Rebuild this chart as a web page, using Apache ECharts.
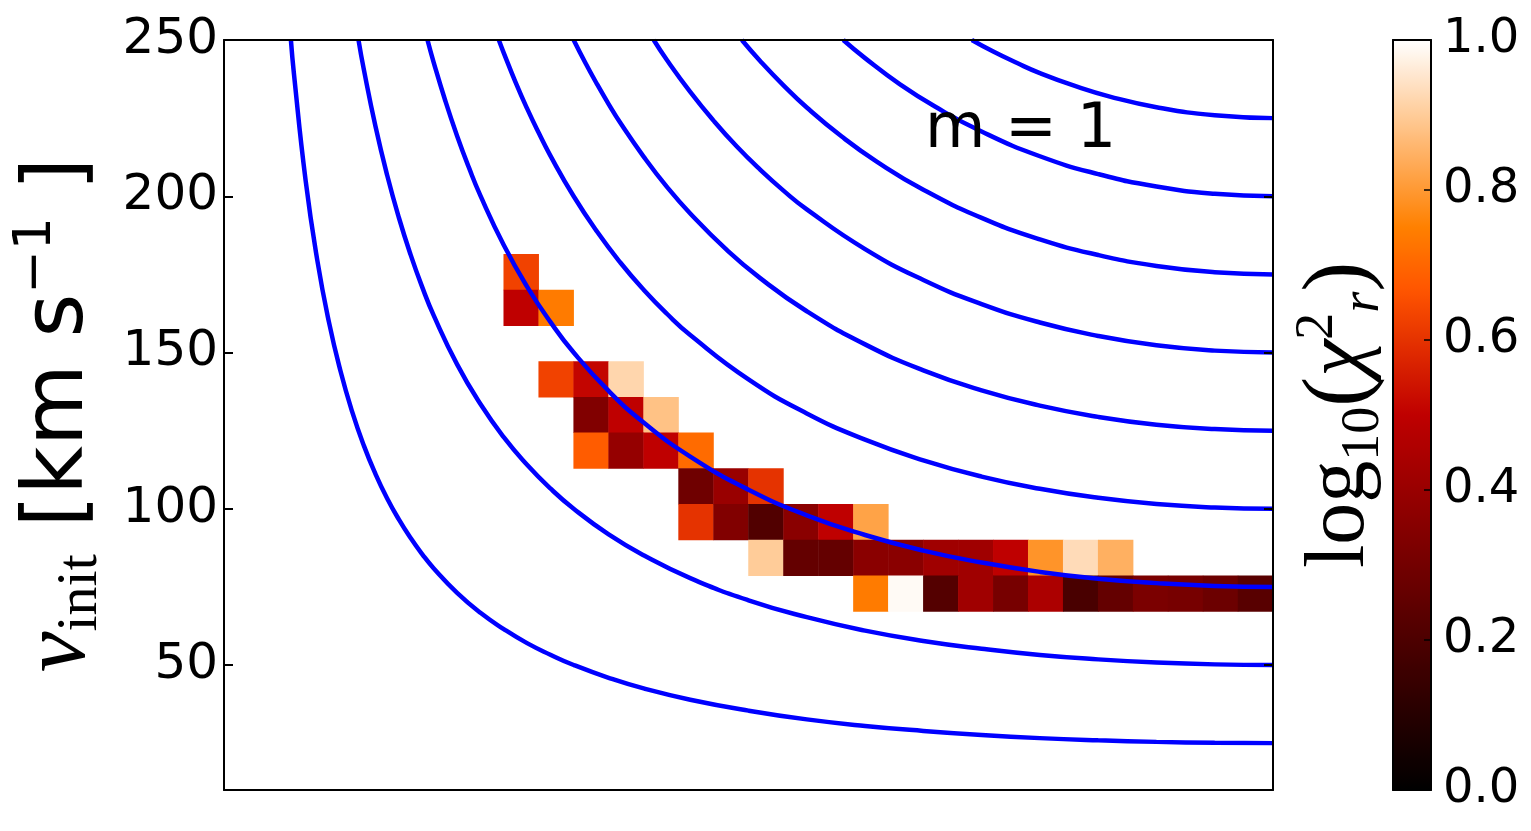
<!DOCTYPE html>
<html>
<head>
<meta charset="utf-8">
<script src="https://cdn.jsdelivr.net/npm/echarts@6/dist/echarts.min.js"></script>
<style>
html,body{margin:0;padding:0;background:#ffffff;}
#chart{width:1531px;height:831px;}
</style>
</head>
<body>
<div id="chart"></div>
<script>
// ---- data ----
const yTicks = [50, 100, 150, 200, 250];          // y tick labels (km/s)
const xBins = ['0','3','6','9','12','15','18','21','24','27','30','33','36','39','42',
               '45','48','51','54','57','60','63','66','69','72','75','78','81','84','87']; // 30 columns (3 deg each)
const yBins = ['10','21','33','44','56','67','79','90','101','113','124','136','147','159',
               '170','181','193','204','216','227','239'];                                   // 21 rows

// heatmap cells: [column, row, log10(chi2_r)]
const cells = [
  [8, 14, 0.63],
  [8, 13, 0.50], [9, 13, 0.74],
  [9, 11, 0.63], [10, 11, 0.51], [11, 11, 0.92],
  [10, 10, 0.335], [11, 10, 0.50], [12, 10, 0.88],
  [10, 9, 0.68], [11, 9, 0.39], [12, 9, 0.50], [13, 9, 0.71],
  [13, 8, 0.29], [14, 8, 0.40], [15, 8, 0.60],
  [13, 7, 0.60], [14, 7, 0.335], [15, 7, 0.21], [16, 7, 0.36], [17, 7, 0.50], [18, 7, 0.82],
  [15, 6, 0.90], [16, 6, 0.26], [17, 6, 0.26], [18, 6, 0.36], [19, 6, 0.36], [20, 6, 0.42],
  [21, 6, 0.42], [22, 6, 0.50], [23, 6, 0.79], [24, 6, 0.93], [25, 6, 0.845],
  [18, 5, 0.74], [19, 5, 0.99], [20, 5, 0.22], [21, 5, 0.42], [22, 5, 0.31], [23, 5, 0.45],
  [24, 5, 0.19], [25, 5, 0.26], [26, 5, 0.32], [27, 5, 0.31], [28, 5, 0.28], [29, 5, 0.23]
];

// blue curves: [x (deg, 0..90 across the plot), v_init]
const curve25 = [[5.74,250],[6,239.2],[7,205.1],[8,179.6],[9,159.8],[10,144.0],[11,131.0],[12,120.2],[13,111.1],[14,103.3],[15,96.6],[16,90.7],[17,85.5],[18,80.9],[20,73.1],[22,66.7],[24,61.5],[26,57.0],[28,53.3],[30,50.0],[33,45.9],[36,42.5],[40,38.9],[45,35.4],[50,32.6],[55,30.5],[60,28.9],[65,27.6],[70,26.6],[75,25.9],[80,25.4],[85,25.1],[90,25.0]];
const curve50 = [[11.54,250],[12,240.5],[13,222.3],[14,206.7],[15,193.2],[16,181.4],[17,171.0],[18,161.8],[20,146.2],[22,133.5],[24,122.9],[26,114.1],[28,106.5],[30,100],[33,91.8],[36,85.1],[40,77.8],[45,70.7],[50,65.3],[55,61.0],[60,57.7],[65,55.2],[70,53.2],[75,51.8],[80,50.8],[85,50.2],[90,50]];
const curve75 = [[17.46,250],[18,242.7],[19,230.4],[20,219.3],[21,209.3],[22,200.2],[24,184.4],[26,171.1],[28,159.8],[30,150],[33,137.7],[36,127.6],[40,116.7],[45,106.1],[50,97.9],[55,91.6],[60,86.6],[65,82.8],[70,79.8],[75,77.6],[80,76.2],[85,75.3],[90,75]];
const curve100 = [[23.58,250],[24,245.9],[25,236.6],[26,228.1],[27,220.3],[28,213.0],[30,200],[32,188.7],[34,178.8],[36,170.1],[38,162.4],[40,155.6],[45,141.4],[50,130.5],[55,122.1],[60,115.5],[65,110.3],[70,106.4],[75,103.5],[80,101.5],[85,100.4],[90,100]];
const curve125 = [[30,250],[31,242.7],[32,235.9],[33,229.5],[34,223.5],[36,212.7],[38,203.0],[40,194.5],[43,183.3],[46,173.8],[50,163.2],[55,152.6],[60,144.3],[65,137.9],[70,133.0],[75,129.4],[80,126.9],[85,125.5],[90,125]];
const curve150 = [[36.87,250],[38,243.6],[40,233.4],[42,224.2],[44,215.9],[46,208.5],[48,201.8],[50,195.8],[55,183.1],[60,173.2],[65,165.5],[70,159.6],[75,155.3],[80,152.3],[85,150.6],[90,150]];
const curve175 = [[44.43,250],[46,243.3],[48,235.5],[50,228.4],[53,219.1],[56,211.1],[60,202.1],[65,193.1],[70,186.2],[75,181.2],[80,177.7],[85,175.7],[90,175]];
const curve200 = [[53.13,250],[55,244.2],[58,235.8],[61,228.7],[65,220.7],[70,212.8],[75,207.1],[80,203.1],[85,200.8],[90,200]];
const curve225 = [[64.16,250],[66,246.3],[68,242.7],[70,239.4],[73,235.3],[76,231.9],[80,228.5],[85,225.9],[90,225]];
const curves = [curve25, curve50, curve75, curve100, curve125, curve150, curve175, curve200, curve225];

// gist_heat colormap stops (evenly spaced 0..1)
const gistHeat = ['#000000','#200000','#400000','#600000','#800000','#9f0000','#bf0000',
                  '#df2a00','#ff5500','#ff8000','#ffaa55','#ffd4aa','#ffffff'];

// ---- chart ----
const black = '#000000';
const spine = {show: true, onZero: false, lineStyle: {color: black, width: 2}};
const chart = echarts.init(document.getElementById('chart'), null, {renderer: 'canvas'});

const lineSeries = curves.map(c => ({
  type: 'line', xAxisIndex: 0, yAxisIndex: 0, data: c,
  showSymbol: false, smooth: 0.5, silent: true, z: 3,
  lineStyle: {color: '#0000ff', width: 4.5}
}));

chart.setOption({
  animation: false,
  backgroundColor: '#ffffff',
  title: {
    text: 'm = 1', left: 925, top: 100, padding: 0,
    textStyle: {fontFamily: 'DejaVu Sans', fontSize: 62, fontWeight: 'normal', color: black}
  },
  grid: [
    {left: 224, top: 40, width: 1049, height: 750},
    {left: 1393, top: 40, width: 38, height: 750}
  ],
  xAxis: [
    {gridIndex: 0, type: 'value', min: 0, max: 90, position: 'bottom', axisLine: spine,
     axisTick: {show: false}, axisLabel: {show: false}, splitLine: {show: false}, z: 10},
    {gridIndex: 0, type: 'category', data: xBins, position: 'top', axisLine: spine,
     axisTick: {show: false}, axisLabel: {show: false}, splitLine: {show: false}, z: 10},
    {gridIndex: 1, type: 'value', min: 0, max: 1, position: 'bottom', axisLine: spine,
     axisTick: {show: false}, axisLabel: {show: false}, splitLine: {show: false}, z: 10},
    {gridIndex: 1, type: 'value', min: 0, max: 1, position: 'top', axisLine: spine,
     axisTick: {show: false}, axisLabel: {show: false}, splitLine: {show: false}, z: 10}
  ],
  yAxis: [
    {gridIndex: 0, type: 'value', min: 10, max: 250, position: 'left', axisLine: spine,
     axisTick: {show: true, inside: true, length: 9, customValues: yTicks, lineStyle: {color: black, width: 2}},
     axisLabel: {customValues: yTicks, fontFamily: 'DejaVu Sans', fontSize: 50, color: black, margin: 6},
     splitLine: {show: false}, z: 10,
     name: '{v|v}{sub|init}{n| [km s}{sup|−1}{n| ]}',
     nameLocation: 'middle', nameRotate: 90, nameGap: 114,
     nameTextStyle: {
       color: black,
       rich: {
         v: {fontFamily: 'Liberation Serif', fontStyle: 'italic', fontSize: 92, lineHeight: 100, color: black},
         sub: {fontFamily: 'Liberation Serif', fontSize: 58, lineHeight: 36, verticalAlign: 'bottom', color: black},
         n: {fontFamily: 'DejaVu Sans', fontSize: 84, lineHeight: 100, color: black},
         sup: {fontFamily: 'DejaVu Sans', fontSize: 52, lineHeight: 38, verticalAlign: 'top', color: black}
       }
     }},
    {gridIndex: 0, type: 'category', data: yBins, show: false},
    {gridIndex: 0, type: 'value', min: 10, max: 250, position: 'right', axisLine: spine,
     axisTick: {show: true, inside: true, length: 9, customValues: yTicks, lineStyle: {color: black, width: 2}},
     axisLabel: {show: false}, splitLine: {show: false}, z: 10,
     name: '{m|log}{s|10}{p|(}{i|χ}{u|2}{si|r}{p|)}',
     nameLocation: 'middle', nameRotate: 90, nameGap: 18,
     nameTextStyle: {
       color: black,
       rich: {
         m: {fontFamily: 'Liberation Serif', fontSize: 84, lineHeight: 100, color: black},
         p: {fontFamily: 'Liberation Serif', fontSize: 90, lineHeight: 100, color: black},
         i: {fontFamily: 'Liberation Serif', fontStyle: 'italic', fontSize: 84, lineHeight: 100, color: black},
         s: {fontFamily: 'Liberation Serif', fontSize: 54, lineHeight: 40, verticalAlign: 'bottom', color: black},
         si: {fontFamily: 'Liberation Serif', fontStyle: 'italic', fontSize: 54, lineHeight: 40, verticalAlign: 'bottom', color: black},
         u: {fontFamily: 'Liberation Serif', fontSize: 54, lineHeight: 40, verticalAlign: 'top', color: black}
       }
     }},
    {gridIndex: 1, type: 'value', min: 0, max: 1, interval: 0.2, position: 'right', axisLine: spine,
     axisTick: {show: true, inside: true, length: 7, lineStyle: {color: black, width: 1.5}},
     axisLabel: {fontFamily: 'DejaVu Sans', fontSize: 48, color: black, margin: 12,
                 formatter: v => v.toFixed(1)},
     splitLine: {show: false}, z: 10},
    {gridIndex: 1, type: 'value', min: 0, max: 1, position: 'left', axisLine: spine,
     axisTick: {show: false}, axisLabel: {show: false}, splitLine: {show: false}, z: 10}
  ],
  visualMap: {
    type: 'continuous', min: 0, max: 1, seriesIndex: 0, calculable: false,
    orient: 'vertical', left: 1393, top: 40, itemWidth: 38, itemHeight: 750,
    padding: 0, hoverLink: false, inRange: {color: gistHeat}, text: null,
    textStyle: {color: black}
  },
  series: [
    {type: 'heatmap', xAxisIndex: 1, yAxisIndex: 1, data: cells, z: 1, silent: true,
     itemStyle: {borderWidth: 0}, emphasis: {disabled: true}},
    ...lineSeries
  ]
});
</script>
</body>
</html>
